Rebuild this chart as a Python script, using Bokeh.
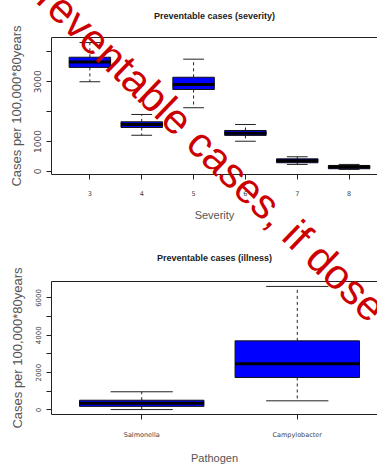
import math
from bokeh.plotting import figure
from bokeh.models import ColumnDataSource, Range1d, FixedTicker, LinearAxis, Div
from bokeh.layouts import column
from bokeh.embed import file_html
from bokeh.resources import INLINE

# --- severity boxplot statistics (cases per 100,000 * 80 years) ---
severity = [3, 4, 5, 6, 7, 8]
sev_low = [3000, 1210, 2130, 1010, 234, 67]
sev_q1 = [3480, 1470, 2740, 1205, 290, 90]
sev_med = [3660, 1570, 2910, 1280, 355, 145]
sev_q3 = [3820, 1660, 3150, 1370, 420, 200]
sev_high = [4310, 1905, 3755, 1570, 490, 234]
sev_yticks = [0, 1000, 2000, 3000, 4000]
sev_ylabels = ["0", "1000", "", "3000", ""]

# --- pathogen boxplot statistics ---
pathogens = ["Salmonella", "Campylobacter"]
path_pos = [1, 2]
path_low = [21, 490]
path_q1 = [193, 1740]
path_med = [365, 2470]
path_q3 = [521, 3700]
path_high = [974, 6615]
path_yticks = [0, 1000, 2000, 3000, 4000, 5000, 6000]
path_ylabels = ["0", "", "2000", "", "4000", "", "6000"]

WATERMARK = "Preventable cases, if dose"

W = 377
H_TOP = 233
H_BOT = 233
LEFT = 51
FRAME_W = W - LEFT       # visible part of the plotting region
FULL_W = 336             # full plotting region width (runs past the page edge)

BOX_W = 0.8
CAP_W = 0.4
LINE = "#222222"
TEXT = "#555555"


def padded(lo, hi, frac=0.04):
    ext = (hi - lo) * frac
    return lo - ext, hi + ext


def make_box(p, pos, low, q1, med, q3, high, box_w):
    src = ColumnDataSource(dict(x=pos, low=low, q1=q1, med=med, q3=q3, high=high,
                                cl=[v - CAP_W / 2 for v in pos],
                                cr=[v + CAP_W / 2 for v in pos],
                                bl=[v - box_w / 2 for v in pos],
                                br=[v + box_w / 2 for v in pos]))
    p.segment(x0="x", y0="q3", x1="x", y1="high", source=src, line_color=LINE,
              line_dash="3 3", line_width=1)
    p.segment(x0="x", y0="q1", x1="x", y1="low", source=src, line_color=LINE,
              line_dash="3 3", line_width=1)
    p.segment(x0="cl", y0="high", x1="cr", y1="high", source=src, line_color=LINE, line_width=1)
    p.segment(x0="cl", y0="low", x1="cr", y1="low", source=src, line_color=LINE, line_width=1)
    p.vbar(x="x", bottom="q1", top="q3", width=box_w, source=src,
           fill_color="#0000ff", line_color="#111111", line_width=1)
    p.segment(x0="bl", y0="med", x1="br", y1="med", source=src, line_color="black",
              line_width=3, line_cap="butt")


def style(p, title, yticks, ylabels, xticks, xlabels, xlabel, ytick_size, xtick_size,
          title_gap):
    p.grid.visible = False
    p.outline_line_color = None
    p.yaxis.ticker = FixedTicker(ticks=yticks)
    p.yaxis.major_label_overrides = {t: l for t, l in zip(yticks, ylabels)}
    p.xaxis.ticker = FixedTicker(ticks=xticks)
    p.xaxis.major_label_overrides = {t: l for t, l in zip(xticks, xlabels)}
    for ax in (p.xaxis[0], p.yaxis[0]):
        ax.axis_line_color = LINE
        ax.major_tick_line_color = LINE
        ax.major_tick_out = 5
        ax.major_tick_in = 0
        ax.minor_tick_out = 0
        ax.minor_tick_in = 0
        ax.major_label_text_color = "#444444"
        ax.major_label_text_font = "DejaVu Sans"
        ax.axis_label_text_font = "Liberation Sans"
        ax.axis_label_text_font_style = "normal"
        ax.axis_label_text_color = TEXT
    p.yaxis.major_label_orientation = "vertical"
    p.yaxis.major_label_text_font_size = ytick_size
    p.yaxis.major_label_standoff = 5
    p.yaxis.axis_label = "Cases per 100,000*80years"
    p.yaxis.axis_label_text_font_size = "13px"
    p.yaxis.axis_label_standoff = 8
    p.xaxis.major_label_text_font_size = xtick_size
    p.xaxis.major_label_standoff = 11
    p.xaxis.axis_label = xlabel
    p.xaxis.axis_label_text_font_size = "11px"
    p.xaxis.axis_label_standoff = 10
    # top edge of the box, carrying the panel heading
    top = LinearAxis(ticker=FixedTicker(ticks=[]), axis_line_color=LINE,
                     major_tick_out=0, major_tick_in=0, minor_tick_out=0, minor_tick_in=0,
                     major_label_text_font_size="0px", major_label_standoff=0,
                     axis_label=title, axis_label_standoff=title_gap,
                     axis_label_text_font="Liberation Sans",
                     axis_label_text_font_size="9px",
                     axis_label_text_font_style="bold",
                     axis_label_text_color="#222222")
    p.add_layout(top, "above")


# ---- top: severity ----
tx0, tx1 = padded(severity[0] - 0.5, severity[-1] + 0.5)
tx1 = tx0 + (tx1 - tx0) * FRAME_W / FULL_W
ty0, ty1 = padded(min(sev_low), max(sev_high))
p1 = figure(width=W, height=H_TOP, output_backend="svg", toolbar_location=None,
            x_range=Range1d(tx0, tx1), y_range=Range1d(ty0, ty1),
            min_border_left=LEFT, min_border_right=0,
            min_border_top=37, min_border_bottom=59)
make_box(p1, severity, sev_low, sev_q1, sev_med, sev_q3, sev_high, BOX_W)
style(p1, "Preventable cases (severity)", sev_yticks, sev_ylabels, severity,
      [str(s) for s in severity], "Severity", "9px", "6.5px", 17)

# ---- bottom: pathogen ----
bx0, bx1 = padded(path_pos[0] - 0.5, path_pos[-1] + 0.5)
bx1 = bx0 + (bx1 - bx0) * FRAME_W / FULL_W
by0, by1 = padded(min(path_low), max(path_high))
p2 = figure(width=W, height=H_BOT, output_backend="svg", toolbar_location=None,
            x_range=Range1d(bx0, bx1), y_range=Range1d(by0, by1),
            min_border_left=LEFT, min_border_right=0,
            min_border_top=48, min_border_bottom=49)
make_box(p2, path_pos, path_low, path_q1, path_med, path_q3, path_high, BOX_W)
style(p2, "Preventable cases (illness)", path_yticks, path_ylabels, path_pos, pathogens,
      "Pathogen", "7px", "6.5px", 19)

# ---- diagonal red caption across both panels ----
FONT_PX = 42
ANGLE = 44
BASE_X, BASE_Y = 14, -17                   # start of the text baseline on the page
asc = ((1 - 1.117) / 2 + 0.905) * FONT_PX  # baseline depth inside a line-height:1 box
a = math.radians(ANGLE)
left = BASE_X - asc * -math.sin(a)
top = BASE_Y - asc * math.cos(a)
caption = Div(
    text=(f'<span style="font-family:\'Liberation Sans\';font-size:{FONT_PX}px;'
          f'line-height:1;color:#cc0000;white-space:nowrap">{WATERMARK}</span>'),
    styles={"position": "absolute", "left": f"{left:.1f}px", "top": f"{top:.1f}px",
            "transform": f"rotate({ANGLE}deg)", "transform-origin": "0 0",
            "white-space": "nowrap", "pointer-events": "none", "z-index": "10",
            "font-size": f"{FONT_PX}px", "line-height": "1", "margin": "0",
            "padding": "0", "overflow": "visible"})

layout = column(p1, p2, spacing=0, elements=[caption],
                styles={"position": "relative", "overflow": "hidden"})
open("out.html", "w").write(file_html(layout, INLINE))
